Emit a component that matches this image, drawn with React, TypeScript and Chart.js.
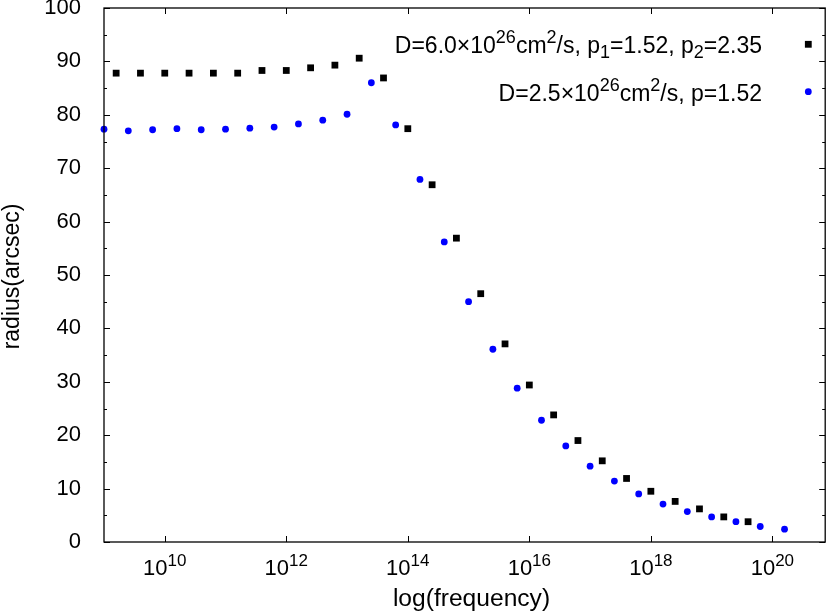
import React, { useEffect, useRef } from 'react';
import { Chart, registerables } from 'chart.js';

Chart.register(...registerables);

const FONT = '"Liberation Sans", Arial, Helvetica, sans-serif';

// log10(frequency) of each model point and the radius
const blackExp = [9.2, 9.6, 10.0, 10.4, 10.8, 11.2, 11.6, 12.0, 12.4, 12.8, 13.2, 13.6, 14.0, 14.4, 14.8, 15.2, 15.6, 16.0, 16.4, 16.8, 17.2, 17.6, 18.0, 18.4, 18.8, 19.2, 19.6];
const blackRadius = [87.8, 87.8, 87.8, 87.8, 87.8, 87.8, 88.3, 88.3, 88.8, 89.3, 90.6, 86.9, 77.4, 66.9, 56.9, 46.5, 37.1, 29.4, 23.8, 19.0, 15.2, 11.9, 9.5, 7.6, 6.2, 4.7, 3.8];

const blueExp = [9.0, 9.4, 9.8, 10.2, 10.6, 11.0, 11.4, 11.8, 12.2, 12.6, 13.0, 13.4, 13.8, 14.2, 14.6, 15.0, 15.4, 15.8, 16.2, 16.6, 17.0, 17.4, 17.8, 18.2, 18.6, 19.0, 19.4, 19.8, 20.2];
const blueRadius = [77.3, 77.0, 77.2, 77.4, 77.2, 77.3, 77.5, 77.7, 78.3, 79.0, 80.1, 86.0, 78.1, 67.9, 56.2, 45.0, 36.1, 28.8, 22.8, 18.0, 14.2, 11.4, 9.0, 7.1, 5.7, 4.7, 3.8, 2.9, 2.4];

const xTickExps = [10, 12, 14, 16, 18, 20];
const yMajorTicks = [0, 10, 20, 30, 40, 50, 60, 70, 80, 90, 100];
const yMinorTicks = [5, 15, 25, 35, 45, 55, 65, 75, 85, 95];

const xTitle = 'log(frequency)';
const yTitle = 'radius(arcsec)';

type Seg = { t: string; sup?: boolean; sub?: boolean };
const legendBlack: Seg[] = [
  { t: 'D=6.0×10' }, { t: '26', sup: true }, { t: 'cm' }, { t: '2', sup: true },
  { t: '/s, p' }, { t: '1', sub: true }, { t: '=1.52, p' }, { t: '2', sub: true }, { t: '=2.35' },
];
const legendBlue: Seg[] = [
  { t: 'D=2.5×10' }, { t: '26', sup: true }, { t: 'cm' }, { t: '2', sup: true }, { t: '/s, p=1.52' },
];

function segWidth(ctx: CanvasRenderingContext2D, segs: Seg[], big: number, small: number) {
  let w = 0;
  for (const s of segs) {
    ctx.font = `${s.sup || s.sub ? small : big}px ${FONT}`;
    w += ctx.measureText(s.t).width;
  }
  return w;
}

function drawSegs(ctx: CanvasRenderingContext2D, segs: Seg[], x: number, baseline: number, big: number, small: number, supShift: number) {
  ctx.textAlign = 'left';
  ctx.textBaseline = 'alphabetic';
  for (const s of segs) {
    ctx.font = `${s.sup || s.sub ? small : big}px ${FONT}`;
    const dy = s.sup ? -supShift : s.sub ? 5 : 0;
    ctx.fillText(s.t, x, baseline + dy);
    x += ctx.measureText(s.t).width;
  }
}

const framePlugin = {
  id: 'frame',
  afterDraw(chart: any) {
    const { ctx, chartArea } = chart;
    const { left, right, top, bottom } = chartArea;
    const xs = chart.scales.x;
    const ys = chart.scales.y;
    ctx.save();
    ctx.strokeStyle = '#000';
    ctx.lineWidth = 1.3;
    ctx.strokeRect(left, top, right - left, bottom - top);
    ctx.lineWidth = 1;
    ctx.beginPath();
    for (const v of yMajorTicks) {
      const y = Math.round(ys.getPixelForValue(v)) + 0.5;
      ctx.moveTo(left, y); ctx.lineTo(left + 6, y);
      ctx.moveTo(right, y); ctx.lineTo(right - 6, y);
    }
    for (const v of yMinorTicks) {
      const y = Math.round(ys.getPixelForValue(v)) + 0.5;
      ctx.moveTo(left, y); ctx.lineTo(left + 3, y);
      ctx.moveTo(right, y); ctx.lineTo(right - 3, y);
    }
    for (const e of xTickExps) {
      const x = Math.round(xs.getPixelForValue(Math.pow(10, e))) + 0.5;
      ctx.moveTo(x, bottom); ctx.lineTo(x, bottom - 6);
      ctx.moveTo(x, top); ctx.lineTo(x, top + 6);
    }
    ctx.stroke();

    ctx.fillStyle = '#000';
    // x tick labels 10^n
    for (const e of xTickExps) {
      const segs: Seg[] = [{ t: '10' }, { t: String(e), sup: true }];
      const w = segWidth(ctx, segs, 22, 17);
      const x = xs.getPixelForValue(Math.pow(10, e));
      drawSegs(ctx, segs, x - w / 2, 575, 22, 17, 9);
    }

    // axis titles
    ctx.textAlign = 'center';
    ctx.textBaseline = 'middle';
    ctx.font = `24.6px ${FONT}`;
    ctx.fillText(xTitle, 471.5, 599);
    ctx.font = `23px ${FONT}`;
    ctx.save();
    ctx.translate(13, 276.5);
    ctx.rotate(-Math.PI / 2);
    ctx.fillText(yTitle, 0, 0);
    ctx.restore();

    // legend
    const textRight = 762;
    const w1 = segWidth(ctx, legendBlack, 23, 18);
    drawSegs(ctx, legendBlack, textRight - w1, 53, 23, 18, 10);
    const w2 = segWidth(ctx, legendBlue, 23, 18);
    drawSegs(ctx, legendBlue, textRight - w2, 101, 23, 18, 10);
    ctx.fillStyle = '#000';
    ctx.fillRect(808.3 - 3.4, 44.3 - 3.4, 6.8, 6.8);
    ctx.fillStyle = '#0000ff';
    ctx.beginPath();
    ctx.arc(808.3, 91.7, 3.4, 0, Math.PI * 2);
    ctx.fill();
    ctx.restore();
  },
};

export default function App() {
  const ref = useRef<HTMLCanvasElement | null>(null);
  useEffect(() => {
    if (!ref.current) return;
    const chart = new Chart(ref.current, {
      type: 'scatter',
      data: {
        datasets: [
          {
            label: 'D=6.0e26',
            data: blackExp.map((e, i) => ({ x: Math.pow(10, e), y: blackRadius[i] })),
            pointStyle: 'rect',
            pointRadius: 4.8,
            backgroundColor: '#000',
            borderWidth: 0,
            clip: false as any,
          },
          {
            label: 'D=2.5e26',
            data: blueExp.map((e, i) => ({ x: Math.pow(10, e), y: blueRadius[i] })),
            pointStyle: 'circle',
            pointRadius: 3.4,
            backgroundColor: '#0000ff',
            borderWidth: 0,
            clip: false as any,
          },
        ],
      },
      options: {
        responsive: false,
        animation: false,
        layout: { padding: { top: 8, right: 2, left: 0, bottom: 0 } },
        plugins: { legend: { display: false }, tooltip: { enabled: false } },
        scales: {
          x: {
            type: 'logarithmic',
            min: 1e9,
            max: 7.4e20,
            grid: { display: false },
            border: { display: false },
            ticks: { display: false },
            afterBuildTicks: (s: any) => {
              s.ticks = xTickExps.map((e) => ({ value: Math.pow(10, e) }));
            },
            afterFit: (s: any) => {
              s.height = 71;
              s.paddingLeft = 0; s.paddingRight = 0;
            },
          },
          y: {
            min: 0,
            max: 100,
            ticks: { stepSize: 10, font: { family: FONT, size: 22 }, color: '#000', padding: 15 },
            grid: { display: false },
            border: { display: false },
            afterFit: (s: any) => {
              s.width = 104;
              s.paddingTop = 0; s.paddingBottom = 0;
            },
          },
        },
      },
      plugins: [framePlugin],
    });
    return () => chart.destroy();
  }, []);
  return (
    <div style={{ position: 'absolute', left: 0, top: 0, width: 830, height: 613, background: '#fff' }}>
      <canvas ref={ref} width={830} height={613} style={{ display: 'block', width: 830, height: 613 }} />
    </div>
  );
}
